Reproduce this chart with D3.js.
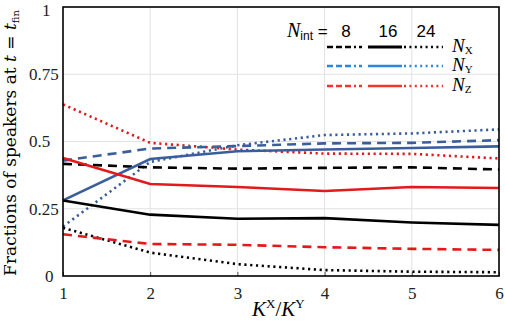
<!DOCTYPE html>
<html><head><meta charset="utf-8">
<script src="https://cdn.jsdelivr.net/npm/d3@7/dist/d3.min.js"></script>
<style>body{margin:0;background:#fff}svg{display:block}
.serif{font-family:"Liberation Serif","DejaVu Serif",serif}
.serif2{font-family:"DejaVu Serif","Liberation Serif",serif}
.sans{font-family:"Liberation Sans",Arial,sans-serif}</style>
</head><body><svg id="c" width="505" height="323"></svg>
<script>
const kRatio = [1, 2, 3, 4, 5, 6];
const NX8  = [0.417, 0.404, 0.399, 0.402, 0.404, 0.396];
const NX16 = [0.281, 0.228, 0.213, 0.215, 0.199, 0.190];
const NX24 = [0.179, 0.087, 0.044, 0.022, 0.016, 0.014];
const NY8  = [0.429, 0.474, 0.483, 0.493, 0.495, 0.505];
const NY16 = [0.281, 0.435, 0.464, 0.470, 0.476, 0.482];
const NY24 = [0.184, 0.424, 0.486, 0.524, 0.530, 0.545];
const NZ8  = [0.155, 0.119, 0.116, 0.107, 0.101, 0.097];
const NZ16 = [0.439, 0.342, 0.331, 0.316, 0.331, 0.327];
const NZ24 = [0.638, 0.495, 0.470, 0.455, 0.454, 0.437];
const xTicks = [1, 2, 3, 4, 5, 6];
const yTicks = [0, 0.25, 0.5, 0.75, 1];
const yTickLabels = ["0", "0.25", "0.5", "0.75", "1"];
const nintLabels = ["8", "16", "24"];

const svg = d3.select("#c");
const L = 63, R = 499, T = 7, B = 276;
const x = d3.scaleLinear().domain([1, 6]).range([L, R]);
const y = d3.scaleLinear().domain([0, 1]).range([B, T]);

// grid
svg.append("g").selectAll("line").data(xTicks.slice(1, -1)).join("line")
  .attr("x1", d => x(d)).attr("x2", d => x(d)).attr("y1", T).attr("y2", B)
  .attr("stroke", "#e2e2e2").attr("stroke-width", 1);
svg.append("g").selectAll("line").data(yTicks.slice(1, -1)).join("line")
  .attr("y1", d => y(d)).attr("y2", d => y(d)).attr("x1", L).attr("x2", R)
  .attr("stroke", "#e2e2e2").attr("stroke-width", 1);

// bottom axis ticks (inside)
const xAxis = d3.axisBottom(x).tickValues(xTicks).tickSize(-4).tickFormat(d3.format("d"));
const gx = svg.append("g").attr("transform", `translate(0,${B})`).call(xAxis);
gx.attr("font-family", null);
gx.select(".domain").remove();
gx.selectAll("line").attr("stroke", "#555");
gx.selectAll("text").attr("class", "serif").style("font-size", "17px").attr("fill", "#222")
  .attr("y", 11).attr("dy", "0.71em");

const yAxis = d3.axisLeft(y).tickValues(yTicks).tickSize(0).tickFormat((d, i) => yTickLabels[i]);
const gy = svg.append("g").attr("transform", `translate(${L},0)`).call(yAxis);
gy.attr("font-family", null);
gy.select(".domain").remove();
gy.selectAll("text").attr("class", "serif").style("font-size", "17px").attr("fill", "#222")
  .attr("text-anchor", "start").attr("x", d => (d === 0 ? -18 : d === 1 ? -21 : -34))
  .attr("dy", d => (d === 1 ? "0.5em" : "0.32em"));

// lines
const line = d3.line().x((d, i) => x(kRatio[i])).y(d => y(d));
const cBlack = "#000", cBlue = "#3a5e9c", cRed = "#e3191c";
const dash = "9,6", dot = "2.2,3.6";
const series = [
  {v: NZ24, c: cRed, d: dot},
  {v: NY24, c: cBlue, d: dot},
  {v: NX24, c: cBlack, d: dot},
  {v: NY8, c: cBlue, d: dash},
  {v: NX8, c: cBlack, d: dash},
  {v: NZ8, c: cRed, d: dash},
  {v: NY16, c: cBlue, d: null},
  {v: NZ16, c: cRed, d: null},
  {v: NX16, c: cBlack, d: null},
];
svg.append("g").selectAll("path").data(series).join("path")
  .attr("d", s => line(s.v)).attr("fill", "none").attr("stroke", s => s.c)
  .attr("stroke-width", 2.6).attr("stroke-dasharray", s => s.d);

// frame
svg.append("rect").attr("x", L).attr("y", T).attr("width", R - L).attr("height", B - T)
  .attr("fill", "none").attr("stroke", "#000").attr("stroke-width", 1.6);

// legend
const lg = svg.append("g");
const head = lg.append("text").attr("x", 287).attr("y", 37).style("font-size", "17px");
head.append("tspan").attr("class", "serif").style("font-style", "italic").style("font-size", "20px").text("N");
head.append("tspan").attr("class", "sans").style("font-size", "12px").attr("dy", 3).text("int");
head.append("tspan").attr("class", "sans").attr("dy", -3).text(" =");
const colX = [346, 388, 426];
lg.selectAll("text.n").data(nintLabels).join("text")
  .attr("x", (d, i) => colX[i]).attr("y", 37).attr("text-anchor", "middle")
  .attr("class", "sans").style("font-size", "17px").text(d => d);
const rows = [{c: "#000", n: "X", y: 47}, {c: "#2a87dd", n: "Y", y: 66}, {c: "#f0352d", n: "Z", y: 86}];
rows.forEach(r => {
  lg.append("line").attr("x1", 327).attr("x2", 362).attr("y1", r.y).attr("y2", r.y)
    .attr("stroke", r.c).attr("stroke-width", 2.6).attr("stroke-dasharray", "6,3,6,3,6,3,2,3");
  lg.append("line").attr("x1", 368).attr("x2", 402).attr("y1", r.y).attr("y2", r.y)
    .attr("stroke", r.c).attr("stroke-width", r.c === "#000" ? 3.2 : 2.6);
  lg.append("line").attr("x1", 404).attr("x2", 443).attr("y1", r.y).attr("y2", r.y)
    .attr("stroke", r.c).attr("stroke-width", 2.6).attr("stroke-dasharray", "2,3.4");
  const t = lg.append("text").attr("x", 452).attr("y", r.y + 5).attr("class", "serif").style("font-size", "19px");
  t.append("tspan").style("font-style", "italic").text("N");
  t.append("tspan").style("font-size", "11px").attr("dy", 2).text(r.n);
});

// x label
const xl = svg.append("text").attr("x", 252).attr("y", 316).attr("class", "serif").style("font-size", "21px");
xl.append("tspan").style("font-style", "italic").text("K");
xl.append("tspan").style("font-size", "13px").attr("dy", -8).text("X");
xl.append("tspan").attr("dy", 8).text("/");
xl.append("tspan").style("font-style", "italic").text("K");
xl.append("tspan").style("font-size", "13px").attr("dy", -8).text("Y");

// y label
const yl = svg.append("text").attr("transform", "translate(16,143) rotate(-90)")
  .attr("text-anchor", "middle").attr("class", "serif2").style("font-size", "17px");
yl.append("tspan").text("Fractions of speakers at ");
yl.append("tspan").style("font-style", "italic").text("t");
yl.append("tspan").text(" = ");
yl.append("tspan").style("font-style", "italic").text("t");
yl.append("tspan").style("font-size", "10px").attr("dy", 3).text("fin");
</script></body></html>
